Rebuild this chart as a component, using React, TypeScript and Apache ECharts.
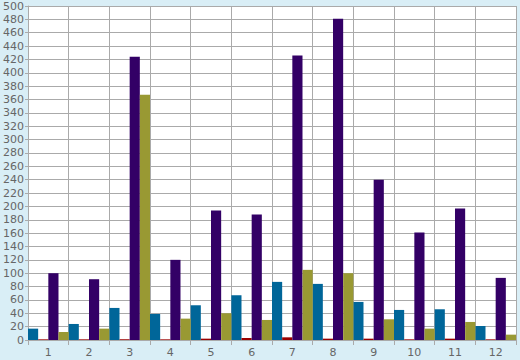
import React, { useEffect, useRef } from "react";
import * as echarts from "echarts";

const categories = ["1", "2", "3", "4", "5", "6", "7", "8", "9", "10", "11", "12"];
const blueValues = [17, 24, 48, 39, 52, 67, 87, 84, 57, 45, 46, 21];
const redValues = [1, 1, 1, 1, 2, 3, 4, 2, 2, 1, 2, 1];
const purpleValues = [100, 91, 424, 120, 194, 188, 426, 481, 240, 161, 197, 93];
const oliveValues = [12, 17, 367, 32, 40, 30, 105, 100, 31, 17, 27, 8];

export default function App() {
  const ref = useRef<HTMLDivElement>(null);
  useEffect(() => {
    const chart = echarts.init(ref.current!, undefined, { renderer: "svg" });
    const grey = "#aaaaaa";
    const labelStyle = { color: "#666666", fontFamily: "DejaVu Sans", fontSize: 11 };
    chart.setOption({
      animation: false,
      backgroundColor: "#d9eef6",
      grid: { left: 25, right: 4, top: 6, bottom: 20, show: true, backgroundColor: "#ffffff", borderWidth: 0 },
      xAxis: {
        type: "category",
        data: categories,
        axisLine: { show: true, lineStyle: { color: grey, width: 1 } },
        axisTick: { show: true, length: 5, lineStyle: { color: grey } },
        axisLabel: { ...labelStyle, margin: 7 },
        splitLine: { show: true, lineStyle: { color: grey, width: 1 } },
      },
      yAxis: {
        type: "value",
        min: 0,
        max: 500,
        interval: 20,
        axisLine: { show: true, lineStyle: { color: grey, width: 1 } },
        axisTick: { show: true, length: 3, lineStyle: { color: grey } },
        axisLabel: { ...labelStyle, margin: 4 },
        splitLine: { show: true, lineStyle: { color: grey, width: 1 } },
      },
      series: [
        { type: "bar", data: blueValues, itemStyle: { color: "#006699" }, barGap: "0%", barCategoryGap: "0%" },
        { type: "bar", data: redValues, itemStyle: { color: "#990000" }, barGap: "0%", barCategoryGap: "0%" },
        { type: "bar", data: purpleValues, itemStyle: { color: "#330066" }, barGap: "0%", barCategoryGap: "0%" },
        { type: "bar", data: oliveValues, itemStyle: { color: "#999933" }, barGap: "0%", barCategoryGap: "0%" },
      ],
    });
    return () => chart.dispose();
  }, []);
  return <div ref={ref} style={{ width: 520, height: 360, position: "absolute", left: 0, top: 0 }} />;
}
